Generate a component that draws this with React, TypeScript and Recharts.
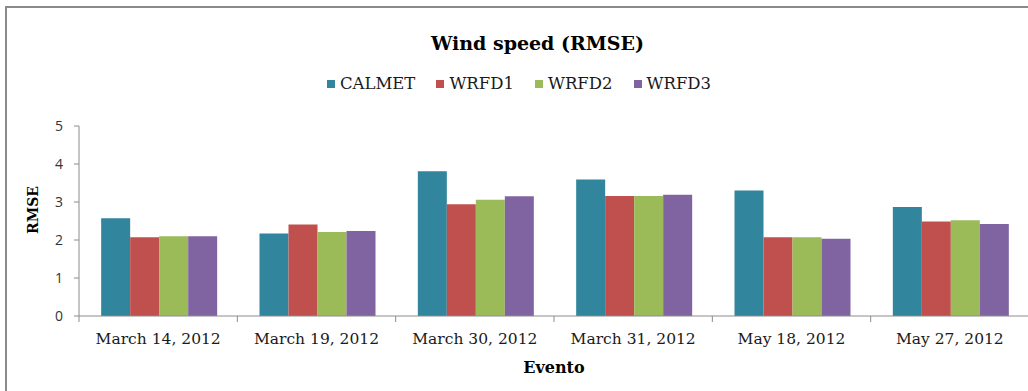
import React from 'react';
import { BarChart, Bar, XAxis, YAxis, Legend } from 'recharts';

const events = ['March 14, 2012', 'March 19, 2012', 'March 30, 2012', 'March 31, 2012', 'May 18, 2012', 'May 27, 2012'];
const calmet = [2.57, 2.17, 3.81, 3.59, 3.30, 2.87];
const wrfd1 = [2.07, 2.41, 2.94, 3.16, 2.07, 2.49];
const wrfd2 = [2.10, 2.21, 3.06, 3.16, 2.07, 2.52];
const wrfd3 = [2.10, 2.24, 3.15, 3.19, 2.03, 2.42];
const yTicks = [0, 1, 2, 3, 4, 5];

const seriesNames = ['CALMET', 'WRFD1', 'WRFD2', 'WRFD3'];
const seriesColors = ['#31859C', '#C0504D', '#9BBB59', '#8064A2'];
const seriesValues = [calmet, wrfd1, wrfd2, wrfd3];

const data = events.map((e, i) => {
  const row: Record<string, string | number> = { event: e };
  seriesNames.forEach((n, k) => { row[n] = seriesValues[k][i]; });
  return row;
});

const CHART_W = 1040;
const CHART_H = 391;
const MARGIN = { top: 126, right: 11, bottom: 45, left: 0 };
const Y_W = 79;
const X_H = 30;
const PLOT_W = CHART_W - MARGIN.left - MARGIN.right - Y_W;
const BAND = PLOT_W / events.length;
const SERIF = '"DejaVu Serif", serif';
const AXIS_COLOR = '#8c8c8c';

const XTick = (props: any) => {
  const { x, y, payload, index } = props;
  const left = x - BAND / 2;
  const right = x + BAND / 2;
  return (
    <g>
      <line x1={left} y1={y} x2={left} y2={y + 6} stroke={AXIS_COLOR} strokeWidth={1} />
      {index === events.length - 1 && (
        <line x1={right} y1={y} x2={right} y2={y + 6} stroke={AXIS_COLOR} strokeWidth={1} />
      )}
      <text x={x} y={y + 17} dy="0.71em" textAnchor="middle" fontFamily={SERIF} fontSize={15.5} fill="#1a1a1a">
        {payload.value}
      </text>
    </g>
  );
};

const LegendContent = () => (
  <div style={{ display: 'flex', justifyContent: 'center', alignItems: 'center', fontFamily: SERIF, fontSize: 16.5, color: '#1a1a1a' }}>
    {seriesNames.map((n, k) => (
      <div key={n} style={{ display: 'flex', alignItems: 'center', marginRight: k < seriesNames.length - 1 ? 21 : 0, fontFamily: SERIF }}>
        <span style={{ display: 'inline-block', width: 8, height: 8, background: seriesColors[k], marginRight: 5 }} />
        <span style={{ fontFamily: SERIF }}>{n}</span>
      </div>
    ))}
  </div>
);

export default function App() {
  return (
    <div style={{ position: 'absolute', left: 0, top: 0, width: 1028, height: 391, overflow: 'hidden', background: '#fff' }}>
      <div style={{ position: 'absolute', left: 5, top: 6, width: 1200, height: 600, border: '2px solid #8a8a8a', boxSizing: 'border-box' }} />
      <div style={{ position: 'absolute', left: 0, top: 29, width: 1075, textAlign: 'center', fontFamily: SERIF, fontWeight: 'bold', fontSize: 19, color: '#000', lineHeight: '28px' }}>
        Wind speed (RMSE)
      </div>
      <div style={{ position: 'absolute', left: 0, top: 0 }}>
        <BarChart width={CHART_W} height={CHART_H} data={data} margin={MARGIN} barCategoryGap="14%" barGap={0}>
          <XAxis
            dataKey="event"
            height={X_H}
            axisLine={{ stroke: AXIS_COLOR }}
            tickLine={false}
            tickSize={0}
            tickMargin={0}
            interval={0}
            tick={<XTick />}
            label={{
              content: (p: any) => {
                const vb = p.viewBox;
                return (
                  <text x={vb.x + vb.width / 2} y={367} textAnchor="middle" dominantBaseline="central" fontFamily={SERIF} fontWeight="bold" fontSize={16} fill="#000">
                    Evento
                  </text>
                );
              },
            }}
          />
          <YAxis
            width={Y_W}
            domain={[0, 5]}
            ticks={yTicks}
            interval={0}
            axisLine={{ stroke: AXIS_COLOR }}
            tickLine={{ stroke: AXIS_COLOR }}
            tickSize={5}
            tickMargin={11}
            tick={{ fontFamily: '"Open Sans", sans-serif', fontSize: 14, fill: '#333' }}
            label={{
              content: (p: any) => {
                const vb = p.viewBox;
                const cx = 33;
                const cy = vb.y + vb.height / 2 - 11;
                return (
                  <text x={cx} y={cy} transform={`rotate(-90, ${cx}, ${cy})`} textAnchor="middle" dominantBaseline="central" fontFamily={SERIF} fontWeight="bold" fontSize={14} fill="#000">
                    RMSE
                  </text>
                );
              },
            }}
          />
          <Legend
            layout="horizontal"
            verticalAlign="middle"
            align="center"
            content={<LegendContent />}
            wrapperStyle={{ position: 'absolute', top: 74, left: 0, width: 1038, height: 22 }}
          />
          {seriesNames.map((n, k) => (
            <Bar key={n} dataKey={n} fill={seriesColors[k]} isAnimationActive={false} />
          ))}
        </BarChart>
      </div>
    </div>
  );
}
